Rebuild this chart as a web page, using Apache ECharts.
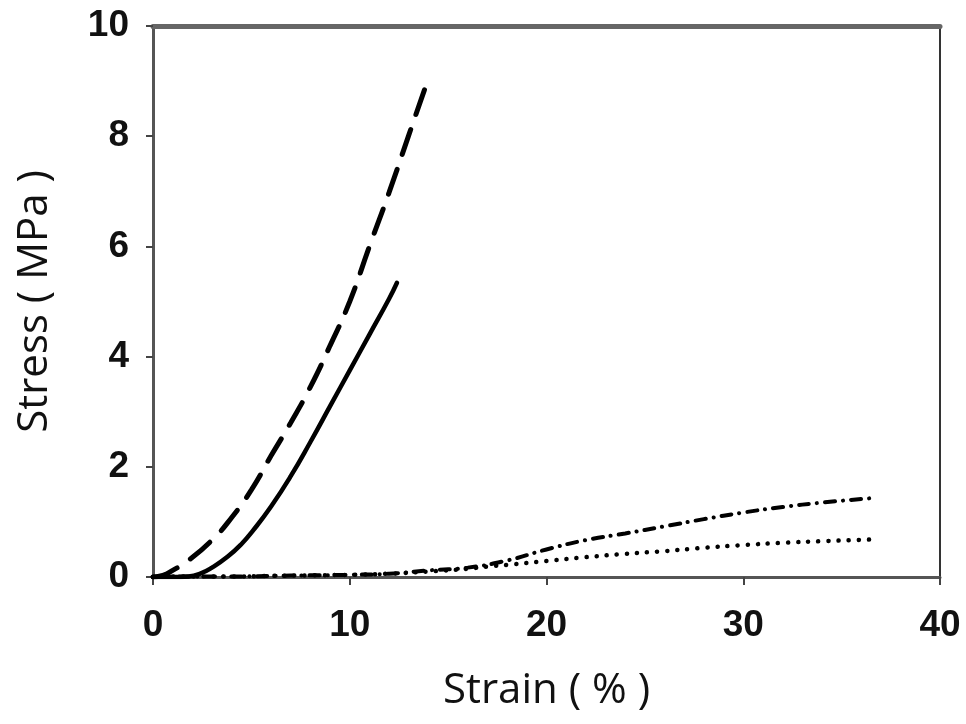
<!DOCTYPE html>
<html>
<head>
<meta charset="utf-8">
<script src="https://cdn.jsdelivr.net/npm/echarts@6/dist/echarts.min.js"></script>
<style>html,body{margin:0;padding:0;background:#fff}#c{width:966px;height:724px}</style>
</head>
<body>
<div id="c"></div>
<script>
// Data (strain %, stress MPa)
const dashedCurve = [[0,0],[0.5,0.03],[1,0.12],[1.8,0.3],[3,0.67],[4,1.08],[5,1.58],[6,2.2],[7,2.8],[8,3.45],[9,4.2],[10,5.0],[11,6.0],[12,6.98],[13,8.02],[14,9.05]];
const solidCurve = [[0,0],[1,0],[1.8,0.01],[2.4,0.06],[3,0.17],[3.8,0.37],[4.5,0.6],[5.1,0.85],[6,1.28],[7,1.83],[8,2.45],[9,3.1],[10,3.75],[11,4.4],[12,5.05],[12.4,5.34]];
const dashDotCurve = [[0,0],[2,0.01],[4,0.01],[6,0.02],[8,0.03],[10,0.04],[12,0.06],[14,0.12],[16,0.17],[18,0.3],[20,0.5],[22,0.67],[24,0.79],[26,0.92],[28,1.05],[30,1.17],[32,1.27],[34,1.35],[36.5,1.43]];
const dottedCurve = [[0,0],[2,0.01],[4,0.01],[6,0.02],[8,0.03],[10,0.04],[12,0.06],[14,0.1],[16,0.15],[17,0.19],[18,0.22],[20,0.29],[22,0.36],[24,0.42],[26,0.47],[28,0.53],[30,0.58],[32,0.62],[34,0.65],[36.5,0.68]];
const xTicks = {min:0, max:40, interval:10};
const yTicks = {min:0, max:10, interval:2};
const xTitle = 'Strain ( % )';
const yTitle = 'Stress ( MPa )';

const chart = echarts.init(document.getElementById('c'));
const tickFont = {fontFamily:'Liberation Sans', fontWeight:'bold', fontSize:37, color:'#111'};
const titleFont = {fontFamily:'Open Sans', fontSize:42, color:'#111', fontWeight:'normal'};
function line(data, type, width){
  return {type:'line', data:data, showSymbol:false, symbol:'none', smooth:true, animation:false,
    lineStyle:{color:'#000', width:width, type:type, cap:'round'}};
}
chart.setOption({
  animation:false,
  grid:{left:153, right:26, top:26, bottom:147, containLabel:false},
  xAxis:[{
    type:'value', min:xTicks.min, max:xTicks.max, interval:xTicks.interval,
    name:xTitle, nameLocation:'middle', nameGap:93, nameTextStyle:titleFont,
    axisLine:{show:true, onZero:false, lineStyle:{color:'#555', width:3}},
    axisTick:{show:true, inside:false, length:8, lineStyle:{color:'#444', width:2}},
    axisLabel:Object.assign({margin:30}, tickFont),
    splitLine:{show:false}
  },{
    type:'value', position:'top', min:xTicks.min, max:xTicks.max,
    axisLine:{show:true, onZero:false, lineStyle:{color:'#666', width:5}},
    axisTick:{show:false}, axisLabel:{show:false}, splitLine:{show:false}
  }],
  yAxis:[{
    type:'value', min:yTicks.min, max:yTicks.max, interval:yTicks.interval,
    name:yTitle, nameLocation:'middle', nameGap:97, nameTextStyle:titleFont,
    axisLine:{show:true, onZero:false, lineStyle:{color:'#555', width:3}},
    axisTick:{show:true, inside:false, length:7, lineStyle:{color:'#444', width:2}},
    axisLabel:Object.assign({margin:24}, tickFont),
    splitLine:{show:false}
  },{
    type:'value', position:'right', min:yTicks.min, max:yTicks.max,
    axisLine:{show:true, onZero:false, lineStyle:{color:'#333', width:2}},
    axisTick:{show:false}, axisLabel:{show:false}, splitLine:{show:false}
  }],
  series:[
    line(dashedCurve, [26,16], 5),
    line(solidCurve, 'solid', 4.5),
    line(dashDotCurve, [10,8,0.1,8], 4),
    line(dottedCurve, [0.1,10], 4.5)
  ]
});
</script>
</body>
</html>
